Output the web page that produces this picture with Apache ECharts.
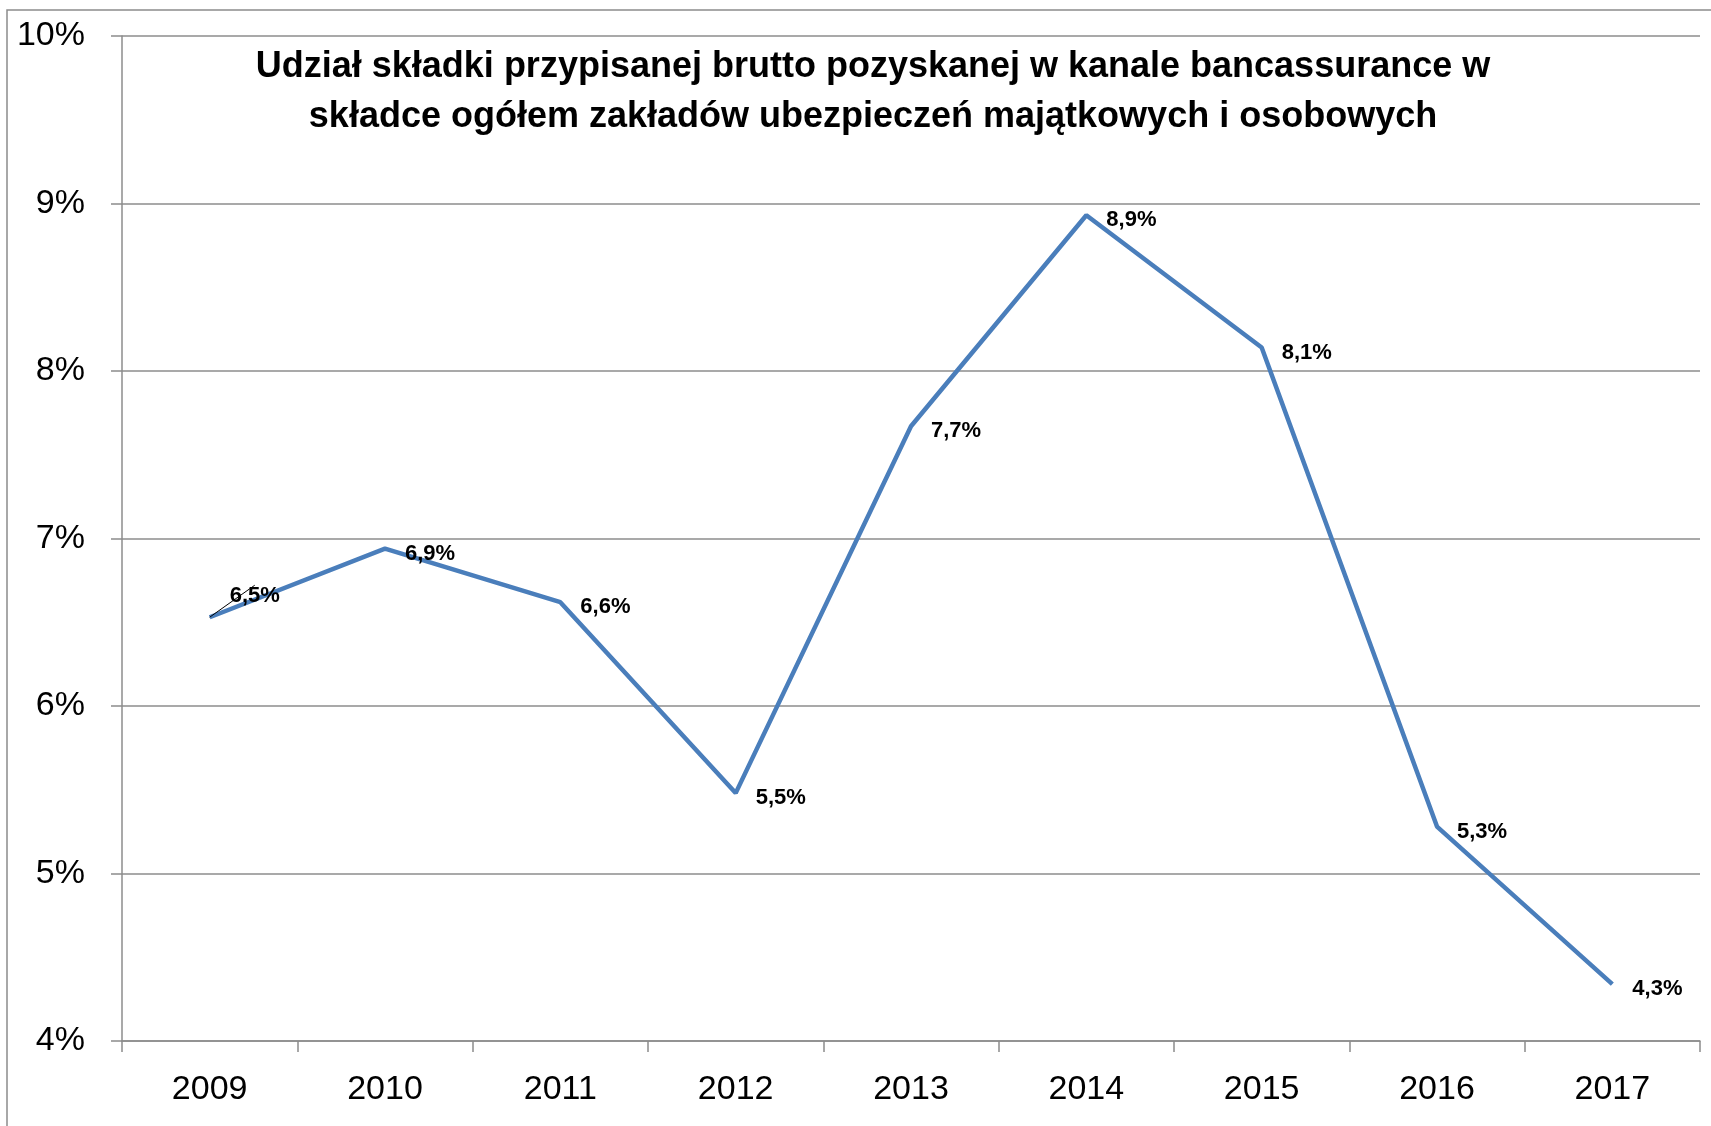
<!DOCTYPE html>
<html>
<head>
<meta charset="utf-8">
<script src="https://cdn.jsdelivr.net/npm/echarts@6/dist/echarts.min.js"></script>
<style>
  html, body { margin: 0; padding: 0; background: #fff; }
  #chart { width: 1711px; height: 1126px; }
</style>
</head>
<body>
<div id="chart"></div>
<script>
const years = ["2009", "2010", "2011", "2012", "2013", "2014", "2015", "2016", "2017"];
const share = [6.53, 6.94, 6.62, 5.48, 7.67, 8.93, 8.14, 5.28, 4.34];
const yTicks = [4, 5, 6, 7, 8, 9, 10];
const titleLines = [
  "Udział składki przypisanej brutto pozyskanej w kanale bancassurance w",
  "składce ogółem zakładów ubezpieczeń majątkowych i osobowych"
];

const font = "'Liberation Sans', sans-serif";
const gridColor = "#8c8c8c";

// only the first label was moved by hand in the original, so only it gets a leader line
const points = share.map((v, i) => ({
  value: v,
  labelLine: { show: i === 0 }
}));

const chart = echarts.init(document.getElementById("chart"));
chart.setOption({
  backgroundColor: "#fff",
  animation: false,
  title: {
    text: titleLines.join("\n"),
    left: 873,
    top: 42,
    padding: 0,
    textAlign: "center",
    textStyle: {
      fontFamily: font,
      fontWeight: "bold",
      fontSize: 36,
      lineHeight: 50,
      color: "#000"
    }
  },
  graphic: [{
    type: "rect",
    shape: { x: 7, y: 10, width: 1740, height: 1140 },
    style: { fill: null, stroke: gridColor, lineWidth: 1.5 },
    silent: true
  }],
  grid: { left: 122, right: 11, top: 36, bottom: 85 },
  xAxis: {
    type: "category",
    data: years,
    boundaryGap: true,
    axisLine: { lineStyle: { color: gridColor, width: 1.5 } },
    axisTick: { show: true, length: 11, lineStyle: { color: gridColor, width: 1.5 } },
    axisLabel: { margin: 32, fontFamily: font, fontSize: 34, color: "#000" }
  },
  yAxis: {
    type: "value",
    min: yTicks[0],
    max: yTicks[yTicks.length - 1],
    interval: 1,
    axisLine: { show: true, lineStyle: { color: gridColor, width: 1.5 } },
    axisTick: { show: true, length: 11, lineStyle: { color: gridColor, width: 1.5 } },
    splitLine: { lineStyle: { color: gridColor, width: 1.5 } },
    axisLabel: {
      margin: 37,
      fontFamily: font,
      fontSize: 34,
      color: "#000",
      formatter: v => v + "%"
    }
  },
  series: [{
    type: "line",
    data: points,
    showSymbol: true,
    symbol: "circle",
    symbolSize: 0,
    lineStyle: { color: "#4a7ebb", width: 4.5 },
    itemStyle: { color: "#4a7ebb" },
    label: {
      show: true,
      position: "right",
      distance: 20,
      fontFamily: font,
      fontWeight: "bold",
      fontSize: 22,
      color: "#000",
      formatter: p => p.value.toFixed(1).replace(".", ",") + "%"
    },
    labelLine: { lineStyle: { color: "#000", width: 1 } },
    labelLayout: p => (p.dataIndex === 0 ? { dx: 0, dy: -21 } : { dy: 5 })
  }]
});
</script>
</body>
</html>
